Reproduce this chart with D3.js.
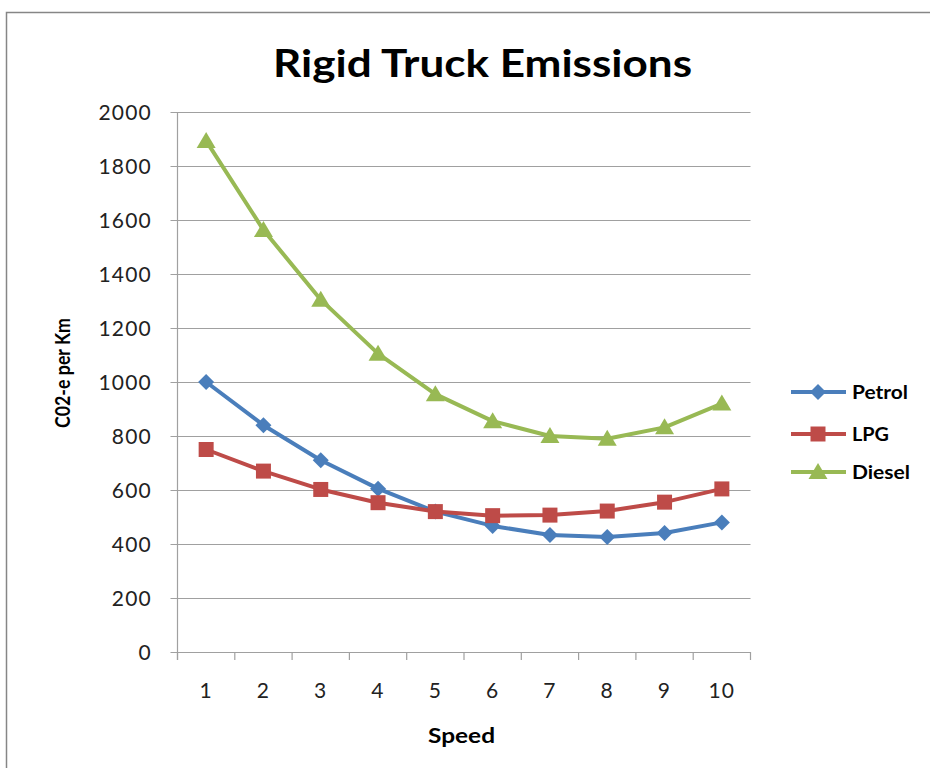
<!DOCTYPE html>
<html><head><meta charset="utf-8">
<script src="https://cdn.jsdelivr.net/npm/d3@7"></script>
<style>body{margin:0;background:#fff}</style>
</head><body>
<svg id="c" width="930" height="768"></svg>
<script>
const categories = ["1","2","3","4","5","6","7","8","9","10"];
const petrol = [1000, 840, 710, 605, 520, 467, 433, 426, 441, 480];
const lpg = [750, 670, 602, 553, 520, 505, 507, 522, 555, 604];
const diesel = [1893, 1563, 1305, 1105, 955, 855, 800, 790, 832, 920];
const yTicks = [0,200,400,600,800,1000,1200,1400,1600,1800,2000];
const seriesNames = ["Petrol","LPG","Diesel"];
const seriesColors = ["#4A7EBB","#BE4B48","#98B954"];

const svg = d3.select("#c");
const font = "Lato, 'Open Sans', sans-serif";
svg.append("rect").attr("x",6.5).attr("y",12.5).attr("width",960).attr("height",800)
  .attr("fill","#fff").attr("stroke","#868686").attr("stroke-width",1.5);

const L=177.5, R=750.5, T=112, B=652;
const x = d3.scaleBand().domain(categories).range([L,R]);
const y = d3.scaleLinear().domain([0,2000]).range([B,T]);

const shapes = [
  {draw(ctx){ const r=8; ctx.moveTo(0,-r); ctx.lineTo(r,0); ctx.lineTo(0,r); ctx.lineTo(-r,0); ctx.closePath(); }},
  {draw(ctx){ const h=7.5; ctx.moveTo(-h,-h); ctx.lineTo(h,-h); ctx.lineTo(h,h); ctx.lineTo(-h,h); ctx.closePath(); }},
  {draw(ctx){ ctx.moveTo(0,-9); ctx.lineTo(9.5,7); ctx.lineTo(-9.5,7); ctx.closePath(); }}
];

svg.append("g").selectAll("line").data(yTicks).join("line")
  .attr("x1",L-7).attr("x2",R).attr("y1",d=>Math.round(y(d))+0.5).attr("y2",d=>Math.round(y(d))+0.5)
  .attr("stroke","#a0a0a0").attr("stroke-width",1.2);
svg.append("line").attr("x1",L).attr("x2",L).attr("y1",T).attr("y2",B+8).attr("stroke","#a0a0a0").attr("stroke-width",1.2);
const xt = categories.map(c=>x(c)).concat([R]);
svg.append("g").selectAll("line").data(xt).join("line")
  .attr("x1",d=>d).attr("x2",d=>d).attr("y1",B).attr("y2",B+8).attr("stroke","#a0a0a0").attr("stroke-width",1.2);

svg.append("g").selectAll("text").data(yTicks).join("text")
  .attr("x",152).attr("y",d=>y(d)+7.5).attr("text-anchor","end")
  .attr("font-family",font).attr("font-size",21).attr("letter-spacing",1.2).attr("fill","#222").text(d=>d);
svg.append("g").selectAll("text").data(categories).join("text")
  .attr("x",d=>x(d)+x.bandwidth()/2).attr("y",698).attr("text-anchor","middle")
  .attr("font-family",font).attr("font-size",21).attr("letter-spacing",1.2).attr("fill","#222").text(d=>d);

svg.append("text").attr("x",482.5).attr("y",77).attr("text-anchor","middle")
  .attr("font-family",font).attr("font-weight","bold").attr("font-size",38).attr("fill","#000")
  .attr("textLength",419).attr("lengthAdjust","spacingAndGlyphs")
  .text("Rigid Truck Emissions");
svg.append("text").attr("x",461.5).attr("y",743).attr("text-anchor","middle")
  .attr("font-family",font).attr("font-weight","bold").attr("font-size",20).attr("fill","#000")
  .attr("textLength",67).attr("lengthAdjust","spacingAndGlyphs").text("Speed");
svg.append("text").attr("transform","translate(70,373) rotate(-90)").attr("text-anchor","middle")
  .attr("font-family",font).attr("font-weight","bold").attr("font-size",21).attr("fill","#000")
  .attr("textLength",110).attr("lengthAdjust","spacingAndGlyphs").text("C02-e per Km");

const data = [petrol,lpg,diesel];
const line = d3.line().x((d,i)=>x(categories[i])+x.bandwidth()/2).y(d=>y(d));
data.forEach((vals,k)=>{
  const g = svg.append("g");
  g.append("path").datum(vals).attr("d",line).attr("fill","none")
    .attr("stroke",seriesColors[k]).attr("stroke-width",4).attr("stroke-linejoin","round");
  g.selectAll("path.m").data(vals).join("path").attr("class","m")
    .attr("transform",(d,i)=>`translate(${x(categories[i])+x.bandwidth()/2},${y(d)})`)
    .attr("d",d3.symbol().type(shapes[k])).attr("fill",seriesColors[k]);
});

const ly = [392,434,472];
const lw = [56, 37, 58];
seriesNames.forEach((n,k)=>{
  const g = svg.append("g");
  g.append("line").attr("x1",791).attr("x2",846).attr("y1",ly[k]).attr("y2",ly[k])
    .attr("stroke",seriesColors[k]).attr("stroke-width",4);
  g.append("path").attr("transform",`translate(818,${ly[k]})`)
    .attr("d",d3.symbol().type(shapes[k])).attr("fill",seriesColors[k]);
  g.append("text").attr("x",852).attr("y",ly[k]+7).attr("font-family",font)
    .attr("font-weight","bold").attr("font-size",19).attr("fill","#000")
    .attr("textLength",lw[k]).attr("lengthAdjust","spacingAndGlyphs").text(n);
});
</script>
</body></html>
